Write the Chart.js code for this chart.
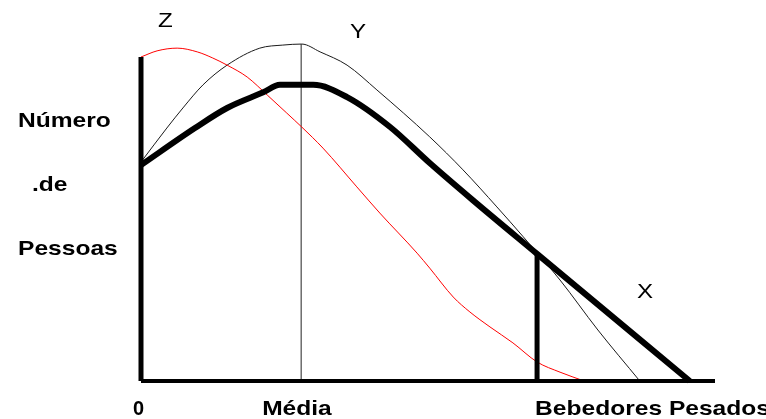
<!DOCTYPE html>
<html>
<head>
<meta charset="utf-8">
<script src="https://cdn.jsdelivr.net/npm/chart.js@4/dist/chart.umd.min.js"></script>
<style>
  html, body { margin: 0; padding: 0; background: #fff; }
  #wrap { width: 766px; height: 419px; }
</style>
</head>
<body>
<div id="wrap"><canvas id="c" width="766" height="419"></canvas></div>
<script>
// ---- data (x: 0..100 along the drinking axis, y: 0..100 number of people) ----
const xTickLabels = ["0", "Média", "Bebedores Pesados"];
const yAxisLabels = ["Número", ".de", "Pessoas"];
const curveNames = ["Z", "Y", "X"];

// X: thick black curve
const curveXx = [0, 9.4, 15.0, 21.3, 24.2, 30.0, 35.9, 43.4, 50.3, 57.8, 69.0, 95.6];
const curveXy = [63.5, 74.4, 80.3, 84.9, 87.1, 87.1, 83.5, 74.7, 64.1, 53.2, 37.4, 0];

// Y: thin black curve
const curveYx = [0, 4.5, 7.3, 10.8, 15.0, 20.7, 24.7, 28.0, 31.2, 35.9, 41.1, 50.3, 56.1, 62.0, 66.6, 73.0, 79.6, 86.9];
const curveYy = [64.4, 74.4, 80.3, 87.1, 92.9, 97.9, 98.8, 99.1, 96.8, 92.9, 85.6, 71.8, 62.1, 51.2, 42.4, 29.7, 15.0, 0];

// Z: red curve
const curveZx = [0, 2.8, 6.3, 9.8, 12.5, 15.0, 18.5, 22.0, 25.4, 28.0, 31.7, 37.6, 41.6, 48.1, 50.3, 54.4, 57.3, 60.8, 64.8, 69.0, 73.0, 77.2];
const curveZy = [95.3, 97.1, 97.9, 96.8, 95.0, 92.9, 89.4, 84.1, 78.8, 74.7, 68.5, 57.1, 49.4, 37.6, 33.2, 24.7, 20.3, 15.9, 11.2, 5.6, 2.6, 0];

// reference positions on the x axis
const meanX = 27.9;        // Média
const heavyX = 69.0;       // start of heavy drinkers
const axisTopY = 95.3;     // top of the vertical axis
const xMax = 100;

function pts(xs, ys) { return xs.map((x, i) => ({ x: x, y: ys[i] })); }

const textPlugin = {
  id: 'texts',
  afterDraw(chart) {
    const ctx = chart.ctx;
    const sx = 1.17;
    function txt(s, x, y, font, scale) {
      ctx.save();
      ctx.font = font;
      ctx.fillStyle = '#000';
      ctx.textBaseline = 'alphabetic';
      ctx.textAlign = 'left';
      ctx.translate(x, y);
      ctx.scale(scale, 1);
      ctx.fillText(s, 0, 0);
      ctx.restore();
    }
    const bold = 'bold 21px "Liberation Sans", Arial, sans-serif';
    const reg = '21px "Liberation Sans", Arial, sans-serif';
    // y-axis title lines
    txt(yAxisLabels[0], 18, 127, bold, sx);
    txt(yAxisLabels[1], 32, 191, bold, sx);
    txt(yAxisLabels[2], 18, 255, bold, sx);
    // x-axis labels
    const xs = chart.scales.x;
    txt(xTickLabels[0], xs.getPixelForValue(0) - 8, 415, bold, 0.95);
    txt(xTickLabels[1], xs.getPixelForValue(meanX) - 39, 415, bold, sx);
    txt(xTickLabels[2], xs.getPixelForValue(heavyX) - 2, 415, bold, sx);
    // curve names
    txt(curveNames[0], 158, 27, reg, 1.15);
    txt(curveNames[1], 350, 38, reg, 1.15);
    txt(curveNames[2], 637, 298, reg, 1.15);
  }
};

const lineDs = (data, color, width, order, smooth) => ({
  data: data, borderColor: color, borderWidth: width, pointRadius: 0,
  cubicInterpolationMode: smooth ? 'monotone' : 'default',
  tension: smooth ? 0.4 : 0, fill: false, clip: false, order: order,
  borderCapStyle: 'butt', borderJoinStyle: 'round'
});

new Chart(document.getElementById('c'), {
  type: 'line',
  data: {
    datasets: [
      lineDs(pts(curveXx, curveXy), '#000000', 6, 1, true),
      lineDs(pts(curveYx, curveYy), '#1a1a1a', 1, 3, true),
      lineDs(pts(curveZx, curveZy), '#ff0000', 1, 2, true),
      lineDs([{ x: meanX, y: 0 }, { x: meanX, y: curveYy[7] }], '#222222', 1, 4, false),
      lineDs([{ x: heavyX, y: 0 }, { x: heavyX, y: curveXy[10] }], '#000000', 5, 0, false),
      lineDs([{ x: 0, y: 0 }, { x: 0, y: axisTopY }], '#000000', 5, 0, false),
      lineDs([{ x: 0, y: 0 }, { x: xMax, y: 0 }], '#000000', 4, 0, false)
    ]
  },
  options: {
    responsive: false,
    animation: false,
    events: [],
    layout: { padding: { left: 141, right: 51, top: 41, bottom: 38 } },
    plugins: { legend: { display: false }, tooltip: { enabled: false }, title: { display: false } },
    scales: {
      x: { type: 'linear', min: 0, max: xMax, display: false },
      y: { type: 'linear', min: 0, max: 100, display: false }
    }
  },
  plugins: [textPlugin]
});
</script>
</body>
</html>
